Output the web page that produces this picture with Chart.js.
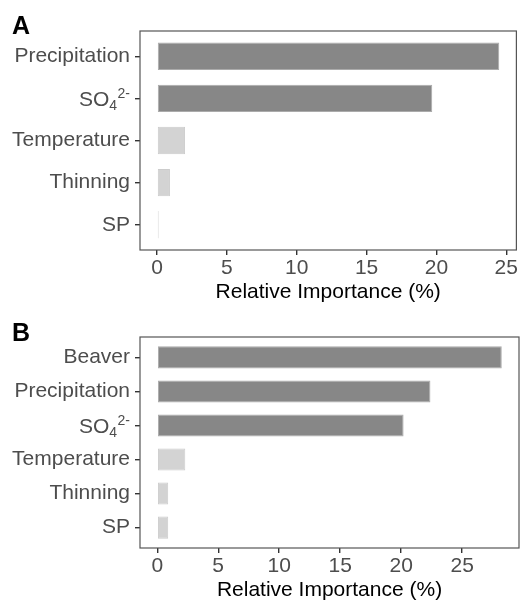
<!DOCTYPE html>
<html>
<head>
<meta charset="utf-8">
<script src="https://cdn.jsdelivr.net/npm/chart.js@4/dist/chart.umd.min.js"></script>
<style>
  html, body { margin: 0; padding: 0; background: #fff; overflow: hidden; }
  canvas { position: absolute; left: 0; display: block; }
  #chartA { top: 0; }
  #chartB { top: 300px; }
</style>
</head>
<body>
<canvas id="chartA" width="521" height="303"></canvas>
<canvas id="chartB" width="521" height="301"></canvas>
<script>
// ====== data ======
const CATEGORIES_A = ['Precipitation', 'SO4', 'Temperature', 'Thinning', 'SP'];
const VALUES_A     = [24.5, 19.7, 2.0, 0.92, 0.07];
const GROUPS_A     = ['major', 'major', 'minor', 'minor', 'minor'];

const CATEGORIES_B = ['Beaver', 'Precipitation', 'SO4', 'Temperature', 'Thinning', 'SP'];
const VALUES_B     = [28.25, 22.4, 20.2, 2.3, 0.9, 0.9];
const GROUPS_B     = ['major', 'major', 'major', 'minor', 'minor', 'minor'];

const X_TICKS    = [0, 5, 10, 15, 20, 25];
const AXIS_TITLE = 'Relative Importance (%)';
// sulfate label is drawn with sub/superscript
const SULFATE = { key: 'SO4', base: 'SO', sub: '4', sup: '2-' };

// ====== styles ======
const FONT = "'Liberation Sans', Arial, sans-serif";
const TEXT_GREY = '#4d4d4d';
const FILL = { major: '#878787', minor: '#d3d3d3' };
const EDGE = { major: '#ababab', minor: '#cccccc' };

// frame, panel letter and the chemical label
const panelDecor = {
  id: 'panelDecor',
  afterDraw(chart, args, opts) {
    const { ctx, chartArea: a } = chart;
    const y = chart.scales.y;
    ctx.save();
    ctx.strokeStyle = '#555';
    ctx.lineWidth = 1.2;
    ctx.strokeRect(a.left, a.top, a.right - a.left, a.bottom - a.top);

    ctx.fillStyle = '#000';
    ctx.font = `bold 25px ${FONT}`;
    ctx.textAlign = 'left';
    ctx.textBaseline = 'alphabetic';
    ctx.fillText(opts.letter, 12, opts.letterY);

    const idx = opts.categories.indexOf(SULFATE.key);
    if (idx >= 0) {
      const py = y.getPixelForValue(idx);
      let right = y.right - 10;
      ctx.fillStyle = TEXT_GREY;
      ctx.textAlign = 'right';
      ctx.font = `14px ${FONT}`;
      ctx.fillText(SULFATE.sup, right, py - 0.5);
      right -= ctx.measureText(SULFATE.sup).width + 0.5;
      ctx.fillText(SULFATE.sub, right, py + 12);
      right -= ctx.measureText(SULFATE.sub).width;
      ctx.font = `21px ${FONT}`;
      ctx.fillText(SULFATE.base, right, py + 7.5);
    }
    ctx.restore();
  }
};

function makeChart(canvasId, letter, letterY, padTop, plotBottom, categories, values, groups) {
  const canvas = document.getElementById(canvasId);
  const xMax = Math.max(...values);
  return new Chart(canvas.getContext('2d'), {
    type: 'bar',
    data: {
      datasets: [{
        data: values.map((v, i) => ({ x: v, y: i })),
        backgroundColor: groups.map(g => FILL[g]),
        borderColor: groups.map(g => EDGE[g]),
        borderWidth: 1,
        borderSkipped: false,
        minBarLength: 1.5,
        barPercentage: 0.65,
        categoryPercentage: 1,
      }],
    },
    options: {
      indexAxis: 'y',
      responsive: false,
      animation: false,
      layout: { padding: { top: padTop, right: 2, left: 0, bottom: 0 } },
      plugins: {
        legend: { display: false },
        tooltip: { enabled: false },
        panelDecor: { letter, letterY, categories },
      },
      scales: {
        x: {
          type: 'linear',
          min: -0.05 * xMax,
          max: 1.05 * xMax,
          afterBuildTicks: (axis) => { axis.ticks = X_TICKS.map(v => ({ value: v })); },
          afterFit: (axis) => { axis.height = canvas.height - plotBottom; },
          grid: { display: true, drawOnChartArea: false, drawTicks: true, tickLength: 5, color: '#333', lineWidth: 1.4 },
          border: { display: false },
          ticks: { color: TEXT_GREY, padding: 3, maxRotation: 0, font: { family: FONT, size: 21, lineHeight: 1 } },
          title: {
            display: true,
            text: AXIS_TITLE,
            color: '#000',
            padding: 0,
            font: { family: FONT, size: 21, lineHeight: 1 },
          },
        },
        y: {
          type: 'linear',
          reverse: true,
          offset: false,
          min: -0.6,
          max: categories.length - 1 + 0.6,
          afterBuildTicks: (axis) => { axis.ticks = categories.map((_, i) => ({ value: i })); },
          afterFit: (axis) => { axis.width = 140; },
          grid: { display: true, offset: false, drawOnChartArea: false, drawTicks: true, tickLength: 5, color: '#333', lineWidth: 1.4 },
          border: { display: false },
          ticks: {
            padding: 5,
            autoSkip: false,
            font: { family: FONT, size: 21 },
            color: (c) => (categories[c.tick.value] === SULFATE.key ? 'rgba(0,0,0,0)' : TEXT_GREY),
            callback: (v) => categories[v],
          },
        },
      },
    },
    plugins: [panelDecor],
  });
}

makeChart('chartA', 'A', 34, 31, 250, CATEGORIES_A, VALUES_A, GROUPS_A);
makeChart('chartB', 'B', 41, 37, 248, CATEGORIES_B, VALUES_B, GROUPS_B);
</script>
</body>
</html>
